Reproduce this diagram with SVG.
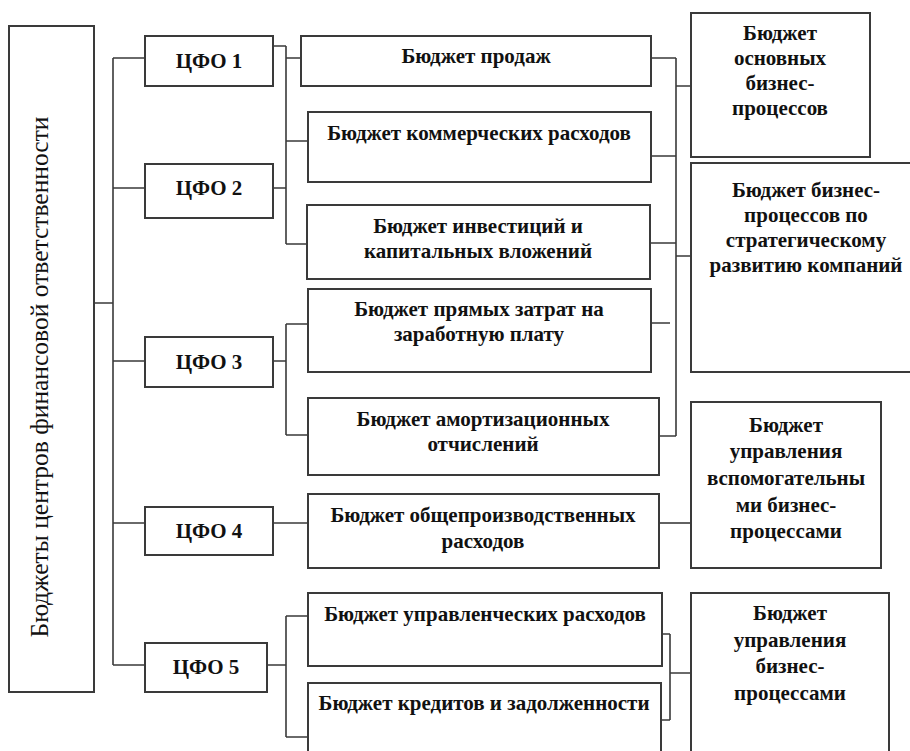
<svg xmlns="http://www.w3.org/2000/svg" width="910" height="751" viewBox="0 0 910 751">
<style>
.box{fill:#fff;stroke:#3a3a3a;stroke-width:2}
.ln{fill:none;stroke:#3a3a3a;stroke-width:1.6}
.t{font-family:'Liberation Serif',serif;font-weight:bold;font-size:21px;fill:#111;text-anchor:middle}
.v{font-family:'Liberation Serif',serif;font-size:25px;fill:#111;text-anchor:middle}
</style>
<rect width="910" height="751" fill="#fff"/>
<g id="connectors">
<path class="ln" d="M94 303H113M113 58V665M113 58H145M113 188H145M113 361H145M113 523H145M113 665H145"/>
<path class="ln" d="M273 46H286M286 46V244M286 58H301M286 141H308M286 244H307M273 188H286"/>
<path class="ln" d="M273 361H286M286 324V435M286 324H308M286 435H308"/>
<path class="ln" d="M273 523H308"/>
<path class="ln" d="M267 665H286M286 616V737M286 616H308M286 737H308"/>
<path class="ln" d="M651 58H676M676 58V436M651 156H676M650 243H676M651 323H670M659 436H676M676 86H691M676 256H691"/>
<path class="ln" d="M659 523H691"/>
<path class="ln" d="M662 634H670M670 634V720M661 720H670M670 673H691"/>
</g>
<g id="root"><rect class="box" x="9" y="26" width="85" height="666"/><text class="v" transform="translate(48 377) rotate(-90)" textLength="521" lengthAdjust="spacingAndGlyphs">Бюджеты центров финансовой ответственности</text></g>
<g id="cfo1"><rect class="box" x="145" y="36" width="128" height="50"/><text class="t" x="209" y="68">ЦФО 1</text></g>
<g id="cfo2"><rect class="box" x="145" y="164" width="128" height="54"/><text class="t" x="209" y="195">ЦФО 2</text></g>
<g id="cfo3"><rect class="box" x="145" y="337" width="128" height="50"/><text class="t" x="209" y="369">ЦФО 3</text></g>
<g id="cfo4"><rect class="box" x="145" y="507" width="128" height="48"/><text class="t" x="209" y="538">ЦФО 4</text></g>
<g id="cfo5"><rect class="box" x="145" y="643" width="122" height="49"/><text class="t" x="206" y="674">ЦФО 5</text></g>
<g id="b-sales"><rect class="box" x="301" y="36" width="350" height="50"/><text class="t" x="476" y="63">Бюджет продаж</text></g>
<g id="b-comm"><rect class="box" x="308" y="112" width="343" height="70"/><text class="t" x="479" y="140">Бюджет коммерческих расходов</text></g>
<g id="b-inv"><rect class="box" x="307" y="205" width="343" height="74"/><text class="t" x="478" y="233">Бюджет инвестиций и</text><text class="t" x="478" y="258">капитальных вложений</text></g>
<g id="b-wage"><rect class="box" x="308" y="289" width="343" height="83"/><text class="t" x="479" y="316">Бюджет прямых затрат на</text><text class="t" x="479" y="341">заработную плату</text></g>
<g id="b-amort"><rect class="box" x="308" y="398" width="351" height="77"/><text class="t" x="483" y="426">Бюджет амортизационных</text><text class="t" x="483" y="451">отчислений</text></g>
<g id="b-overhead"><rect class="box" x="308" y="494" width="351" height="74"/><text class="t" x="483" y="522">Бюджет общепроизводственных</text><text class="t" x="483" y="548">расходов</text></g>
<g id="b-admin"><rect class="box" x="308" y="593" width="354" height="73"/><text class="t" x="485" y="621">Бюджет управленческих расходов</text></g>
<g id="b-credit"><rect class="box" x="308" y="683" width="353" height="80"/><text class="t" x="484" y="710">Бюджет кредитов и задолженности</text></g>
<g id="r-core"><rect class="box" x="691" y="13" width="179" height="144"/><text class="t" x="780" y="40">Бюджет</text><text class="t" x="780" y="65">основных</text><text class="t" x="780" y="90">бизнес-</text><text class="t" x="780" y="115">процессов</text></g>
<g id="r-strat"><rect class="box" x="691" y="163" width="230" height="209"/><text class="t" x="806" y="197">Бюджет бизнес-</text><text class="t" x="806" y="222">процессов по</text><text class="t" x="806" y="247">стратегическому</text><text class="t" x="806" y="272">развитию компаний</text></g>
<g id="r-aux"><rect class="box" x="691" y="402" width="190" height="166"/><text class="t" x="786" y="432">Бюджет</text><text class="t" x="786" y="458">управления</text><text class="t" x="786" y="485">вспомогательны</text><text class="t" x="786" y="512">ми бизнес-</text><text class="t" x="786" y="538">процессами</text></g>
<g id="r-mgmt"><rect class="box" x="691" y="593" width="198" height="170"/><text class="t" x="790" y="620">Бюджет</text><text class="t" x="790" y="647">управления</text><text class="t" x="790" y="673">бизнес-</text><text class="t" x="790" y="700">процессами</text></g>
</svg>
